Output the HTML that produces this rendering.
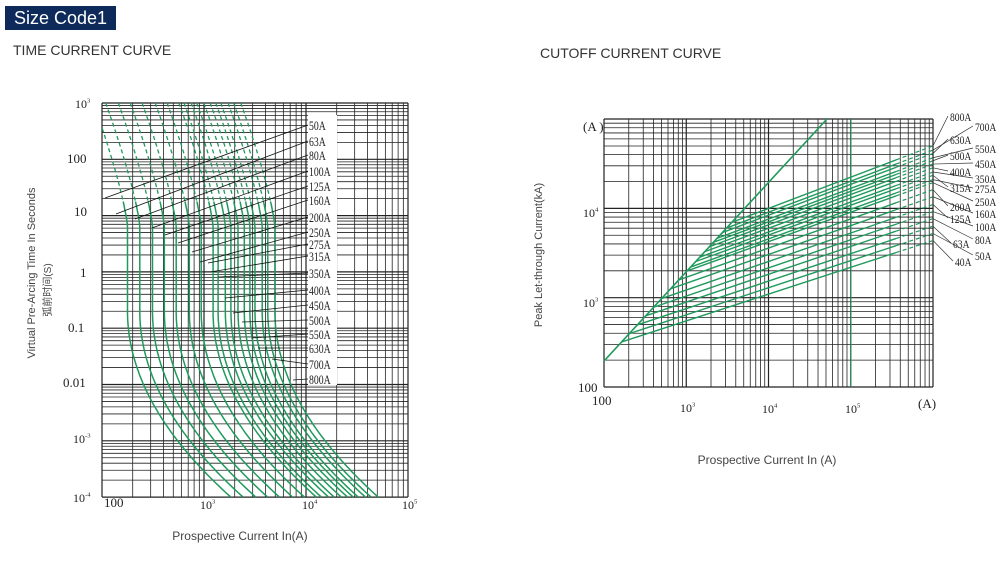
<!DOCTYPE html>
<html><head><meta charset="utf-8">
<style>
html,body{margin:0;padding:0;background:#fff;}
body{width:1000px;height:563px;position:relative;overflow:hidden;font-family:"Liberation Sans","Noto Sans CJK SC",sans-serif;}
.hdr{position:absolute;left:5px;top:6px;width:111px;height:24px;background:#0d2a5a;color:#fff;font-size:18px;line-height:24px;padding-left:9px;box-sizing:border-box;}
.t{position:absolute;font-size:14px;color:#333;}
svg{position:absolute;left:0;top:0;}
</style></head><body>
<div class="hdr">Size Code1</div>
<div class="t" style="left:13px;top:42px;">TIME CURRENT CURVE</div>
<div class="t" style="left:540px;top:45px;">CUTOFF CURRENT CURVE</div>
<svg id="s" width="1000" height="563" xmlns="http://www.w3.org/2000/svg">
<g font-family="Liberation Sans, Noto Sans CJK SC, sans-serif" fill="#444" font-size="11">
<text transform="translate(35,273) rotate(-90)" text-anchor="middle">Virtual Pre-Arcing Time In Seconds</text>
<text transform="translate(51,290) rotate(-90)" text-anchor="middle" font-size="10">弧前时间(S)</text>
<text x="240" y="540" text-anchor="middle" font-size="12">Prospective Current In(A)</text>
<text x="767" y="464" text-anchor="middle" font-size="12">Prospective Current In (A)</text>
<text transform="translate(542,255) rotate(-90)" text-anchor="middle">Peak Let-through Current(kA)</text>
</g>
</svg>
<script>
var s=document.getElementById('s'),NS='http://www.w3.org/2000/svg';
function el(n,a,p){var e=document.createElementNS(NS,n);for(var k in a)e.setAttribute(k,a[k]);(p||s).appendChild(e);return e;}
function line(x1,y1,x2,y2,c,w,d){var a={x1:x1,y1:y1,x2:x2,y2:y2,stroke:c,'stroke-width':w};if(d)a['stroke-dasharray']=d;el('line',a);}
function txt(x,y,t,sz,anc,sup){var e=el('text',{x:x,y:y,'font-family':'Liberation Serif, serif','font-size':sz,fill:'#222','text-anchor':anc||'start'});e.textContent=t;if(sup){var ts=el('tspan',{'font-size':sz*0.55,dy:-sz*0.45},e);ts.textContent=sup;}return e;}
var G='#1f9a5c';
var L={x0:102,x1:408,y0:103,y1:497,ud:102,vd:56.3};
function LX(u){return L.x0+(u-2)*L.ud;} function LY(v){return L.y0+(3-v)*L.vd;}
for(var d=2;d<5;d++)for(var m=1;m<10;m++){var x=LX(d+Math.log10(m));line(x,L.y0,x,L.y1,'#222',m==1?1.2:0.8);}
line(L.x1,L.y0,L.x1,L.y1,'#222',1.2);
for(var d=-4;d<3;d++)for(var m=1;m<10;m++){var y=LY(d+Math.log10(m));line(L.x0,y,L.x1,y,'#222',m==1?1.2:0.8);}
line(L.x0,L.y0,L.x1,L.y0,'#222',1.2);
var R=[50,63,80,100,125,160,200,250,275,315,350,400,450,500,550,630,700,800];
R.forEach(function(I,i){
 var u0=2.25+Math.log10(I/50)*1.2;
 var solid='',dash='',first='';
 for(var v=3;v>=-4.001;v-=0.05){
  var lo=Math.max(0,-v-0.7), hi=Math.max(0,v-0.8);
  var u=u0+0.093*lo*lo-0.12*Math.pow(hi,1.3);
  var x=LX(u),y=LY(v); if(x<L.x0||x>L.x1)continue;
  var p=x.toFixed(1)+','+y.toFixed(1)+' ';
  if(v>1.3)dash+=p; else {if(!first)first=p;solid+=p;}
 }
 if(dash)el('polyline',{points:dash+first,fill:'none',stroke:G,'stroke-width':1.3,'stroke-dasharray':'4,3'});
 el('polyline',{points:solid,fill:'none',stroke:G,'stroke-width':1.5});
});
var ly=[125,141,155,171,186,200,217,232,244,256,273,290,305,320,334,348,364,379];
var le=[[105,198],[116,214],[135,219],[152,228],[165,235],[178,243],[192,252],[200,262],[208,263],[210,272],[218,277],[225,298],[233,313],[242,322],[252,338],[258,348],[272,359],[293,380]];
el('rect',{x:308,y:115,width:29,height:270,fill:'#fff'});
R.forEach(function(I,i){line(le[i][0],le[i][1],308,ly[i],'#111',0.8);var t=txt(309,ly[i]+5,I+'A',13);t.setAttribute('transform','translate('+(309*0.25)+',0) scale(0.75,1)');});
txt(75,108,'10',12,'start','3');txt(67,163,'100',13);txt(74,216,'10',13);txt(80,277,'1',13);txt(68,332,'0.1',13);txt(63,387,'0.01',13);txt(73,443,'10',12,'start','-3');txt(73,502,'10',12,'start','-4');
txt(104,507,'100',13);txt(200,509,'10',12,'start','3');txt(302,509,'10',12,'start','4');txt(402,509,'10',12,'start','5');
var C={x0:604,x1:933,y0:119,y1:387,ud:82.25,vd:89.3};
function CX(u){return C.x0+(u-2)*C.ud;} function CY(v){return C.y1-(v-2)*C.vd;}
for(var d=2;d<6;d++)for(var m=1;m<10;m++){var x=CX(d+Math.log10(m));line(x,C.y0,x,C.y1,'#222',m==1?1.2:0.8);}
line(C.x1,C.y0,C.x1,C.y1,'#222',1.2);
for(var d=2;d<5;d++)for(var m=1;m<10;m++){var y=CY(d+Math.log10(m));line(C.x0,y,C.x1,y,'#222',m==1?1.2:0.8);}
line(C.x0,C.y0,C.x1,C.y0,'#222',1.2);
line(851,C.y0,851,C.y1,G,1);
line(CX(2),CY(2.29),CX(4.71),CY(5),G,1.6);
var R2=[40,50,63,80,100,125,160,200,250,275,315,350,400,450,500,550,630,700,800];
var ends=[];
R2.forEach(function(I,i){
 var f=Math.log10(I/40)/Math.log10(20);
 var ve=3.64+f*1.06, sl=0.30+0.05*f, su=(ve-sl*6-0.29)/(1-sl);
 var sv=su+0.29, um=5.55;
 line(CX(su),CY(sv),CX(um),CY(ve-sl*(6-um)),G,1.4);
 line(CX(um),CY(ve-sl*(6-um)),CX(6),CY(ve),G,1.2,'4,3');
 ends.push(CY(ve));
});
var lab={'800A':[950,121],'700A':[975,131],'630A':[950,144],'550A':[975,153],'500A':[950,160],'450A':[975,168],'400A':[950,176],'350A':[975,183],'315A':[950,192],'275A':[975,193],'200A':[950,211],'250A':[975,206],'125A':[950,223],'160A':[975,218],'100A':[975,231],'63A':[953,248],'80A':[975,244],'40A':[955,266],'50A':[975,260]};
R2.forEach(function(I,i){var k=I+'A',p=lab[k];line(C.x1,ends[i],p[0]-2,p[1]-5,'#333',0.7);var t=txt(p[0],p[1],k,12);t.setAttribute('transform','translate('+(p[0]*0.2)+',0) scale(0.8,1)');});
txt(583,131,'(A )',13);txt(583,217,'10',12,'start','4');txt(583,307,'10',12,'start','3');txt(578,392,'100',13);
txt(592,405,'100',13);txt(680,412,'10',12,'start','3');txt(762,413,'10',12,'start','4');txt(845,413,'10',12,'start','5');txt(918,408,'(A)',13);
</script>
</body></html>
